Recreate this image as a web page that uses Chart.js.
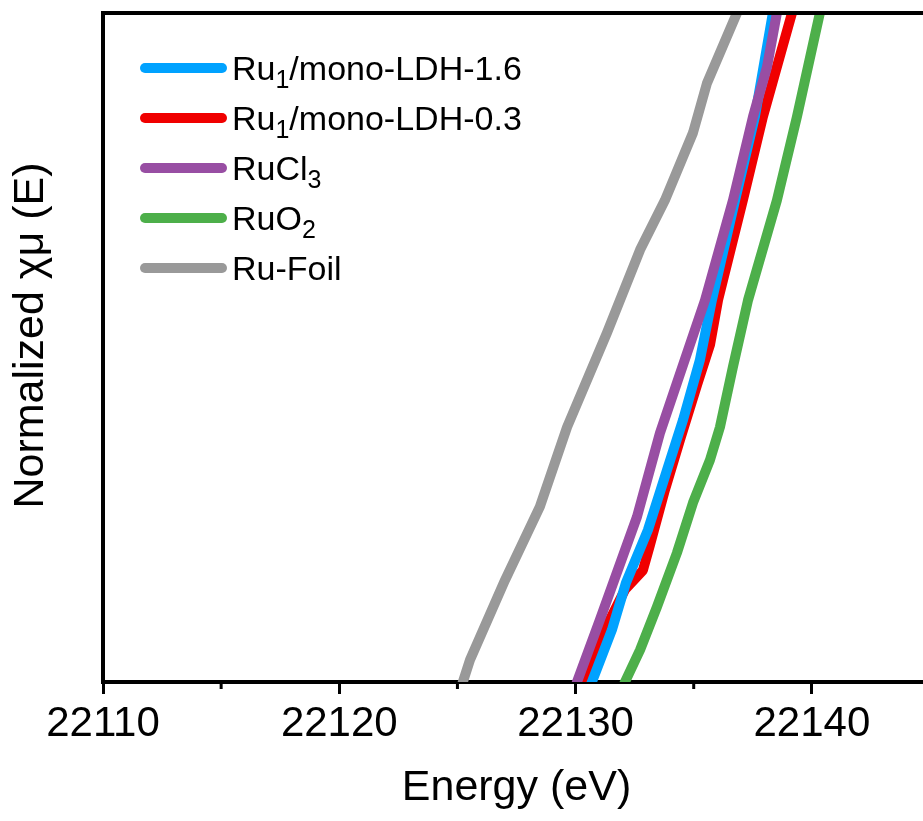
<!DOCTYPE html>
<html>
<head>
<meta charset="utf-8">
<script src="https://cdn.jsdelivr.net/npm/chart.js@4.4.0/dist/chart.umd.min.js"></script>
<style>
  html, body { margin: 0; padding: 0; background: #fff; overflow: hidden; }
  #wrap { width: 934px; height: 821px; position: relative; }
</style>
</head>
<body>
<div id="wrap"><canvas id="xanesChart"></canvas></div>
<script>
// Ru K-edge XANES, zoomed on the rising edge
const seriesNames = ['Ru₁/mono-LDH-1.6', 'Ru₁/mono-LDH-0.3', 'RuCl₃', 'RuO₂', 'Ru-Foil'];
const seriesColors = ['#00A2FF', '#F00000', '#984EA3', '#4DAF4A', '#999999'];
// lower number = drawn on top
const seriesOrder = [1, 2, 0, 3, 4];

const ldh16E = [22130.35, 22130.69, 22131.54, 22132.13, 22133.06, 22133.87, 22134.55, 22135.26, 22135.77, 22136.75, 22137.59, 22138.35, 22138.52];
const ldh16Mu = [-0.033, 0, 0.078, 0.148, 0.227, 0.317, 0.392, 0.481, 0.571, 0.72, 0.845, 1.0, 1.031];

const ldh03E = [22129.93, 22130.31, 22131.24, 22132.09, 22132.85, 22133.15, 22133.78, 22134.42, 22135.14, 22135.69, 22136.03, 22137.08, 22137.93, 22139.16, 22139.41];
const ldh03Mu = [-0.033, 0, 0.078, 0.138, 0.167, 0.205, 0.287, 0.362, 0.444, 0.504, 0.571, 0.72, 0.845, 1.0, 1.031];

const rucl3E = [22129.72, 22130.06, 22131.03, 22132.60, 22133.57, 22134.29, 22135.48, 22136.66, 22137.51, 22138.10, 22138.52, 22138.69];
const rucl3Mu = [-0.033, 0, 0.093, 0.247, 0.372, 0.447, 0.571, 0.72, 0.845, 0.919, 1.0, 1.031];

const ruo2E = [22131.67, 22132.09, 22132.73, 22133.44, 22134.29, 22134.97, 22135.69, 22136.11, 22136.66, 22137.30, 22138.52, 22139.37, 22140.34, 22140.43];
const ruo2Mu = [-0.033, 0, 0.048, 0.112, 0.193, 0.268, 0.332, 0.381, 0.471, 0.571, 0.72, 0.845, 1.0, 1.031];

const foilE = [22124.94, 22125.23, 22125.53, 22127.01, 22128.49, 22129.64, 22131.33, 22132.73, 22133.78, 22134.97, 22135.56, 22136.83, 22137.21];
const foilMu = [-0.033, 0, 0.033, 0.152, 0.262, 0.381, 0.522, 0.646, 0.72, 0.821, 0.895, 1.0, 1.031];

const seriesE = [ldh16E, ldh03E, rucl3E, ruo2E, foilE];
const seriesMu = [ldh16Mu, ldh03Mu, rucl3Mu, ruo2Mu, foilMu];

const xMin = 22110, xMax = 22145;
const majorTicks = [22110, 22120, 22130, 22140];
const minorTicks = [22115, 22125, 22135];

const FONT = "'Liberation Sans', Arial, sans-serif";

const toPoints = (xs, ys) => xs.map((x, i) => ({ x: x, y: ys[i] }));

// top frame line + minor ticks on the energy axis
const framePlugin = {
  id: 'frame',
  afterDraw(chart) {
    const { ctx, chartArea } = chart;
    const xs = chart.scales.x;
    ctx.save();
    ctx.strokeStyle = '#000';
    ctx.lineWidth = 4;
    ctx.beginPath();
    ctx.moveTo(chartArea.left - 2, chartArea.top);
    ctx.lineTo(chartArea.right + 2, chartArea.top);
    ctx.stroke();
    ctx.lineWidth = 3;
    minorTicks.forEach((v) => {
      const px = xs.getPixelForValue(v);
      ctx.beginPath();
      ctx.moveTo(px, chartArea.bottom);
      ctx.lineTo(px, chartArea.bottom + 7);
      ctx.stroke();
    });
    ctx.restore();
  }
};

// legend drawn by hand so the subscripts come out right
const subMap = { '₀': '0', '₁': '1', '₂': '2', '₃': '3', '₄': '4', '₅': '5', '₆': '6', '₇': '7', '₈': '8', '₉': '9' };
const legendPlugin = {
  id: 'subLegend',
  afterDraw(chart) {
    const ctx = chart.ctx;
    const size = 34, subSize = 25;
    ctx.save();
    chart.data.datasets.forEach((ds, i) => {
      const y = 68 + i * 50;
      ctx.strokeStyle = ds.borderColor;
      ctx.lineWidth = 10;
      ctx.lineCap = 'round';
      ctx.beginPath();
      ctx.moveTo(145, y);
      ctx.lineTo(222, y);
      ctx.stroke();

      let x = 232;
      const base = y + 12;
      ctx.fillStyle = '#000';
      ctx.textBaseline = 'alphabetic';
      ctx.textAlign = 'left';
      for (const ch of ds.label) {
        if (subMap[ch]) {
          ctx.font = subSize + 'px ' + FONT;
          ctx.fillText(subMap[ch], x, base + 8);
          x += ctx.measureText(subMap[ch]).width;
        } else {
          ctx.font = size + 'px ' + FONT;
          ctx.fillText(ch, x, base);
          x += ctx.measureText(ch).width;
        }
      }
    });
    ctx.restore();
  }
};

new Chart('xanesChart', {
  type: 'line',
  data: {
    datasets: seriesNames.map((name, i) => ({
      label: name,
      data: toPoints(seriesE[i], seriesMu[i]),
      borderColor: seriesColors[i],
      backgroundColor: seriesColors[i],
      borderWidth: 10,
      pointRadius: 0,
      tension: 0,
      fill: false,
      clip: 0,
      order: seriesOrder[i],
      borderJoinStyle: 'round'
    }))
  },
  options: {
    responsive: true,
    maintainAspectRatio: false,
    animation: false,
    layout: { padding: { top: 13, right: 4, left: 0, bottom: 0 } },
    plugins: {
      legend: { display: false },
      tooltip: { enabled: false }
    },
    scales: {
      x: {
        type: 'linear',
        min: xMin,
        max: xMax,
        afterFit: (s) => { s.height = 139; },
        afterBuildTicks: (s) => { s.ticks = majorTicks.map((v) => ({ value: v })); },
        border: { display: true, color: '#000', width: 4 },
        grid: { drawOnChartArea: false, color: '#000', tickLength: 12, tickWidth: 3 },
        ticks: {
          color: '#000',
          font: { family: FONT, size: 42 },
          padding: 5,
          maxRotation: 0,
          callback: (v) => String(v)
        },
        title: {
          display: true,
          text: 'Energy (eV)',
          color: '#000',
          font: { family: FONT, size: 43 },
          padding: { top: 0, bottom: 7 }
        }
      },
      y: {
        type: 'linear',
        min: 0,
        max: 1,
        afterFit: (s) => { s.width = 103; },
        border: { display: true, color: '#000', width: 4 },
        grid: { display: false },
        ticks: { display: false },
        title: {
          display: true,
          // leading spaces nudge the centred title upwards like the original
          text: '  Normalized χμ (E)',
          color: '#000',
          font: { family: FONT, size: 43 },
          padding: { top: 5, bottom: 0 }
        }
      }
    }
  },
  plugins: [framePlugin, legendPlugin]
});
</script>
</body>
</html>
